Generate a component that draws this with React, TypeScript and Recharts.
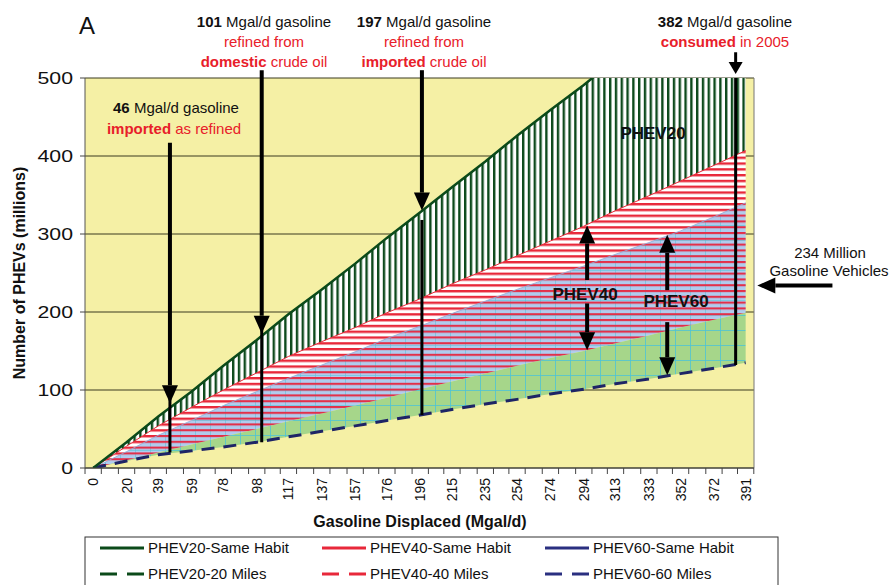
import { ComposedChart, Area, Line, XAxis, YAxis, CartesianGrid, ReferenceLine } from 'recharts';

// gasoline displaced (Mgal/d) at the labelled category ticks
const gasolineDisplaced = [0, 20, 39, 59, 78, 98, 117, 137, 157, 176, 196, 215, 235, 254, 274, 294, 313, 333, 352, 372, 391];

// number of PHEVs (millions)
const phev20SameHabit = [0, 33, 66, 98, 131, 164, 197, 229, 262, 295, 328, 360, 393, 426, 459, 491, 524, 557, 590, 622, 655];
const phev40SameHabit = [0, 28, 54, 78, 100, 122, 143, 162, 180, 199, 217, 236, 254, 272, 291, 310, 330, 349, 368, 388, 407];
const phev60SameHabit = [0, 21, 42, 61, 80, 98, 115, 132, 149, 166, 182, 198, 214, 229, 244, 259, 274, 289, 304, 322, 340];
const phev40Miles40 = [0, 10, 20, 30, 40, 50, 60, 70, 80, 90, 101, 111, 121, 131, 141, 150, 160, 170, 180, 190, 199];
const phev60Miles60 = [0, 9, 17, 22, 27, 33, 40, 47, 54, 61, 68, 75, 82, 88, 95, 101, 108, 114, 121, 128, 135];

const yTicks = [0, 100, 200, 300, 400, 500];

const legendItems = [
  { name: 'PHEV20-Same Habit', color: '#0b4a1a', dashed: false },
  { name: 'PHEV40-Same Habit', color: '#e8283a', dashed: false },
  { name: 'PHEV60-Same Habit', color: '#2a2f80', dashed: false },
  { name: 'PHEV20-20 Miles', color: '#0b4a1a', dashed: true },
  { name: 'PHEV40-40 Miles', color: '#e8283a', dashed: true },
  { name: 'PHEV60-60 Miles', color: '#2a2f80', dashed: true },
];

const data = gasolineDisplaced.map((x, i) => ({
  x,
  p20: phev20SameHabit[i],
  p40: phev40SameHabit[i],
  p60: phev60SameHabit[i],
  m40: phev40Miles40[i],
  m60: phev60Miles60[i],
}));

const FONT = '"Liberation Sans", Arial, sans-serif';
const RED = '#e8202a';
const HALF_BAND = 8.15;
const AXIS_Y = 468;

const arrow = (w: number, head = 18, half = 8) => (props: any) => {
  const { x1, y1, x2, y2 } = props;
  const dx = x2 - x1;
  const dy = y2 - y1;
  const len = Math.hypot(dx, dy) || 1;
  const ux = dx / len;
  const uy = dy / len;
  const bx = x2 - ux * head;
  const by = y2 - uy * head;
  const px = -uy;
  const py = ux;
  return (
    <g>
      <line x1={x1} y1={y1} x2={bx} y2={by} stroke="#000" strokeWidth={w} />
      <polygon
        points={`${x2},${y2} ${bx + px * half},${by + py * half} ${bx - px * half},${by - py * half}`}
        fill="#000"
      />
    </g>
  );
};

const XTick = (props: any) => {
  const { x, payload } = props;
  return (
    <g>
      <line x1={x - HALF_BAND} x2={x - HALF_BAND} y1={AXIS_Y} y2={AXIS_Y + 6} stroke="#444" />
      <line x1={x + HALF_BAND} x2={x + HALF_BAND} y1={AXIS_Y} y2={AXIS_Y + 6} stroke="#444" />
      <text
        transform={`translate(${x + 5},${AXIS_Y + 10}) rotate(-90)`}
        textAnchor="end"
        fontSize={14}
        fontFamily={FONT}
        fill="#111"
      >
        {payload.value}
      </text>
    </g>
  );
};

const YTick = (props: any) => {
  const { x, y, payload } = props;
  return (
    <text
      transform={`translate(${x},${y}) scale(1.25,1)`}
      textAnchor="end"
      dy="0.36em"
      fontSize={17}
      fontFamily={FONT}
      fill="#111"
    >
      {payload.value}
    </text>
  );
};

export default function App() {
  return (
    <div style={{ position: 'absolute', left: 0, top: 0, width: 890, height: 585, background: '#fff' }}>
      <ComposedChart
        width={890}
        height={585}
        data={data}
        margin={{ top: 78, right: 136, bottom: 77, left: 37 }}
      >
        <defs>
          <pattern id="vGreen" patternUnits="userSpaceOnUse" width="5.8" height="10">
            <rect width="5.8" height="10" fill="#fff" />
            <rect x="0" width="2.4" height="10" fill="#0d4a1c" />
          </pattern>
          <pattern id="hRed" patternUnits="userSpaceOnUse" width="10" height="5.8">
            <rect width="10" height="5.8" fill="#fff" />
            <rect y="0" width="10" height="2.4" fill="#e8283a" />
          </pattern>
          <pattern id="hRedClear" patternUnits="userSpaceOnUse" width="10" height="5.8">
            <rect y="0" width="10" height="2.1" fill="#e2304a" />
          </pattern>
          <pattern id="blueGrid" patternUnits="userSpaceOnUse" width="15" height="15">
            <rect width="15" height="15" fill="#b0ccee" />
            <rect x="0" width="1" height="15" fill="#5cc4dc" opacity="0.6" />
            <rect y="0" width="15" height="1" fill="#5cc4dc" opacity="0.6" />
          </pattern>
          <pattern id="greenGrid" patternUnits="userSpaceOnUse" width="15" height="15">
            <rect width="15" height="15" fill="#a6d68a" />
            <rect x="0" width="1" height="15" fill="#4ec3d6" opacity="0.8" />
            <rect y="0" width="15" height="1" fill="#4ec3d6" opacity="0.8" />
          </pattern>
        </defs>

        <CartesianGrid vertical={false} stroke="#3a3a20" fill="#f5f0a5" fillOpacity={1} />

        <XAxis
          dataKey="x"
          type="number"
          domain={[-4.9, 396]}
          ticks={gasolineDisplaced}
          interval={0}
          allowDataOverflow
          tickLine={false}
          axisLine={{ stroke: '#444' }}
          tick={<XTick />}
          height={40}
        />
        <YAxis
          type="number"
          domain={[0, 500]}
          ticks={yTicks}
          allowDataOverflow
          width={48}
          tickSize={5}
          tickMargin={7}
          axisLine={{ stroke: '#555' }}
          tickLine={{ stroke: '#444' }}
          tick={<YTick />}
        />

        <Area dataKey={(d: any) => [d.m40, d.p60]} stroke="none" fill="url(#blueGrid)" fillOpacity={1} isAnimationActive={false} />
        <Area dataKey={(d: any) => [d.m60, d.m40]} stroke="none" fill="url(#greenGrid)" fillOpacity={1} isAnimationActive={false} />
        <Area dataKey={(d: any) => [d.p60, d.p40]} stroke="none" fill="url(#hRed)" fillOpacity={1} isAnimationActive={false} />
        <Area dataKey={(d: any) => [d.m40, d.p60]} stroke="none" fill="url(#hRedClear)" fillOpacity={1} isAnimationActive={false} />
        <Area dataKey={(d: any) => [d.p40, d.p20]} stroke="none" fill="url(#vGreen)" fillOpacity={1} isAnimationActive={false} />

        <Line dataKey="p40" stroke="#e8283a" strokeWidth={1} dot={false} isAnimationActive={false} />
        <Line dataKey="p60" stroke="#8aa6dc" strokeWidth={0.8} dot={false} isAnimationActive={false} />
        <Line dataKey="m60" stroke="#1e2466" strokeWidth={3} strokeDasharray="13 9" dot={false} isAnimationActive={false} />
        <Line dataKey="p20" stroke="#0b4a1a" strokeWidth={2.5} dot={false} isAnimationActive={false} />

        <ReferenceLine x={396} stroke="#777" />

        {/* annotation arrows */}
        <ReferenceLine segment={[{ x: 46, y: 417 }, { x: 46, y: 83 }]} ifOverflow="visible" shape={arrow(4)} />
        <ReferenceLine segment={[{ x: 46, y: 90 }, { x: 46, y: 20 }]} ifOverflow="visible" stroke="#000" strokeWidth={3} />
        <ReferenceLine segment={[{ x: 101, y: 510 }, { x: 101, y: 172 }]} ifOverflow="visible" shape={arrow(4)} />
        <ReferenceLine segment={[{ x: 101, y: 180 }, { x: 101, y: 33 }]} ifOverflow="visible" stroke="#000" strokeWidth={3} />
        <ReferenceLine segment={[{ x: 197, y: 510 }, { x: 197, y: 330 }]} ifOverflow="visible" shape={arrow(4)} />
        <ReferenceLine segment={[{ x: 197, y: 318 }, { x: 197, y: 68 }]} ifOverflow="visible" stroke="#000" strokeWidth={3} />
        <ReferenceLine segment={[{ x: 385, y: 533 }, { x: 385, y: 505 }]} ifOverflow="visible" shape={arrow(3, 12, 7)} />
        <ReferenceLine segment={[{ x: 385, y: 500 }, { x: 385, y: 132 }]} ifOverflow="visible" stroke="#000" strokeWidth={3} />
        <ReferenceLine segment={[{ x: 296, y: 241 }, { x: 296, y: 311 }]} ifOverflow="visible" shape={arrow(4)} />
        <ReferenceLine segment={[{ x: 296, y: 211 }, { x: 296, y: 151 }]} ifOverflow="visible" shape={arrow(4)} />
        <ReferenceLine segment={[{ x: 344, y: 228 }, { x: 344, y: 299 }]} ifOverflow="visible" shape={arrow(4)} />
        <ReferenceLine segment={[{ x: 344, y: 187 }, { x: 344, y: 119 }]} ifOverflow="visible" shape={arrow(4)} />
        <ReferenceLine segment={[{ x: 443, y: 234 }, { x: 398, y: 234 }]} ifOverflow="visible" shape={arrow(4)} />
      </ComposedChart>

      <svg
        width={890}
        height={585}
        style={{ position: 'absolute', left: 0, top: 0, pointerEvents: 'none' }}
        fontFamily={FONT}
      >
        <text x={79} y={34} fontSize={24} fill="#111">A</text>

        <g fontSize={15} textAnchor="middle">
          <text x={264} y={27} fill="#111"><tspan fontWeight="bold">101</tspan> Mgal/d gasoline</text>
          <text x={264} y={47} fill={RED}>refined from</text>
          <text x={264} y={67} fill={RED}><tspan fontWeight="bold">domestic</tspan> crude oil</text>

          <text x={424} y={27} fill="#111"><tspan fontWeight="bold">197</tspan> Mgal/d gasoline</text>
          <text x={424} y={47} fill={RED}>refined from</text>
          <text x={424} y={67} fill={RED}><tspan fontWeight="bold">imported</tspan> crude oil</text>

          <text x={725} y={27} fill="#111"><tspan fontWeight="bold">382</tspan> Mgal/d gasoline</text>
          <text x={725} y={47} fill={RED}><tspan fontWeight="bold">consumed</tspan> in 2005</text>

          <text x={176} y={113} fill="#111"><tspan fontWeight="bold">46</tspan> Mgal/d gasoline</text>
          <text x={174} y={134} fill={RED}><tspan fontWeight="bold">imported</tspan> as refined</text>

          <text x={830} y={258} fill="#111">234 Million</text>
          <text x={829} y={276} fill="#111">Gasoline Vehicles</text>
        </g>

        <g fontSize={17} fontWeight="bold" textAnchor="middle" fill="#111">
          <text x={653} y={139}>PHEV20</text>
          <text x={585} y={300}>PHEV40</text>
          <text x={676} y={307}>PHEV60</text>
        </g>

        <text x={420} y={527} fontSize={16} fontWeight="bold" textAnchor="middle" fill="#111">
          Gasoline Displaced (Mgal/d)
        </text>
        <text
          transform="translate(25,273) rotate(-90)"
          fontSize={16}
          fontWeight="bold"
          textAnchor="middle"
          fill="#111"
        >
          Number of PHEVs (millions)
        </text>

        <rect x={85} y={537} width={693} height={60} fill="#fff" stroke="#333" />
        {legendItems.map((item, i) => {
          const col = i % 3;
          const row = Math.floor(i / 3);
          const x0 = [100, 322, 545][col];
          const cy = 548 + row * 26;
          return (
            <g key={item.name}>
              <line
                x1={x0}
                x2={x0 + 44}
                y1={cy}
                y2={cy}
                stroke={item.color}
                strokeWidth={3}
                strokeDasharray={item.dashed ? '17 10' : undefined}
              />
              <text x={x0 + 48} y={cy + 5} fontSize={15} fill="#111">{item.name}</text>
            </g>
          );
        })}
      </svg>
    </div>
  );
}
